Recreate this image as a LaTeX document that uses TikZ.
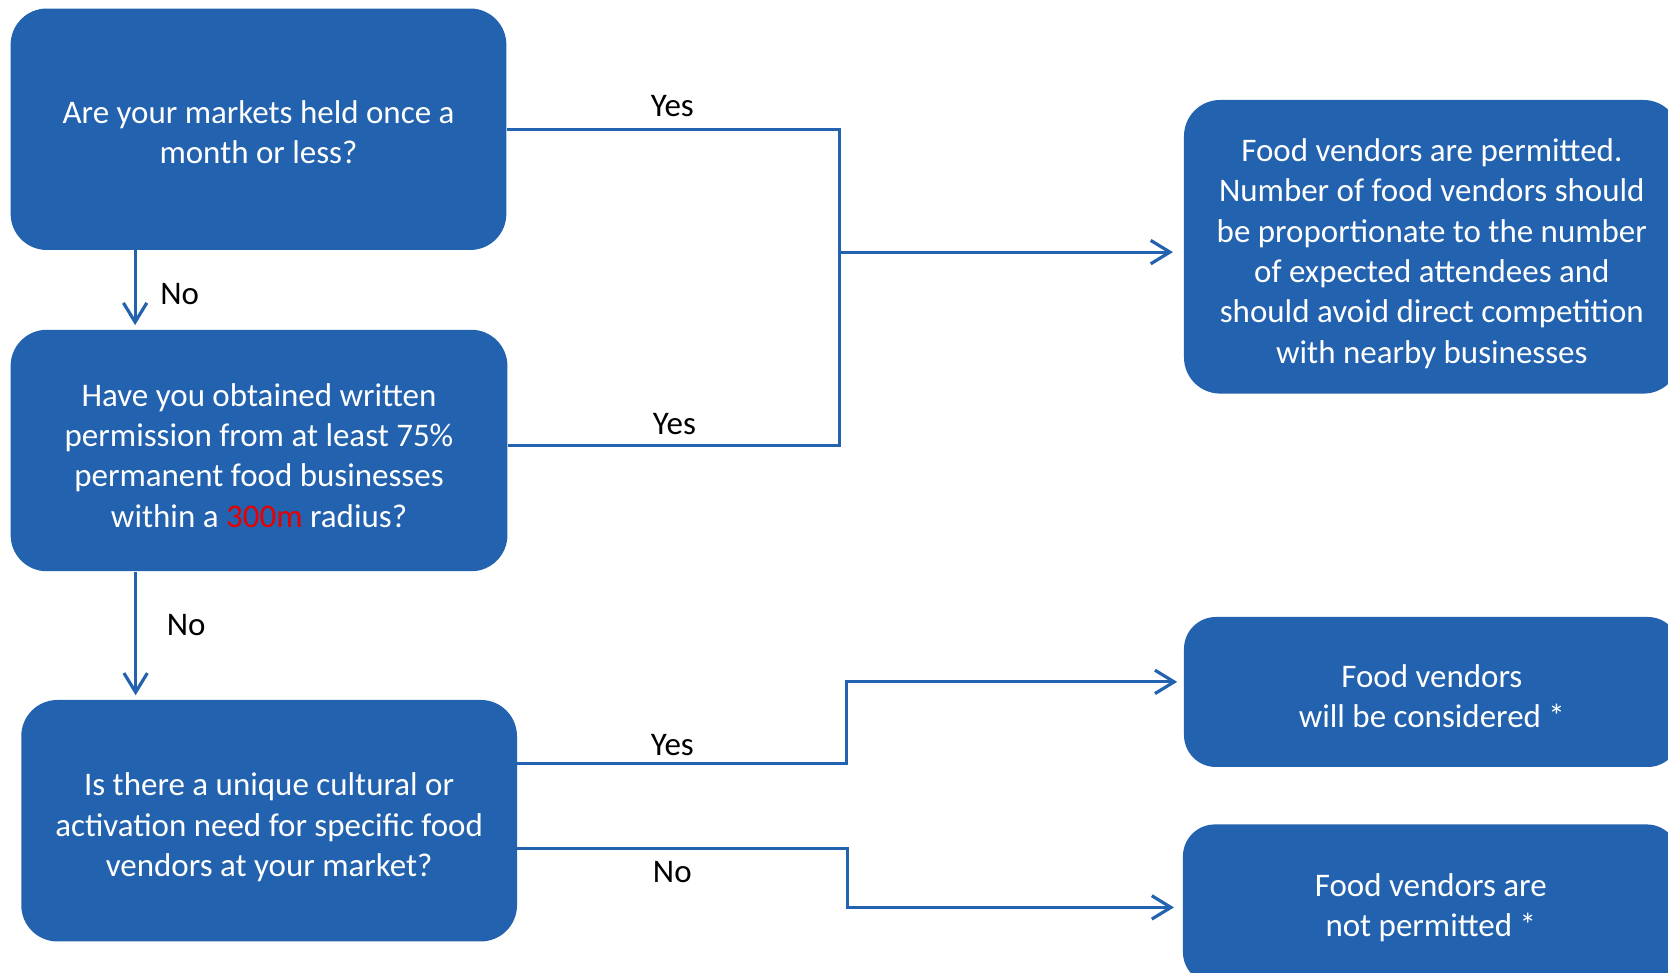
\documentclass[tikz,border=0pt]{standalone}
\usepackage{fontspec}
\setmainfont{Carlito}
\usetikzlibrary{arrows.meta}
\definecolor{boxblue}{RGB}{35,98,174}
\definecolor{redtxt}{RGB}{232,0,0}
\newcommand\lowertxt[2]{\raisebox{-#1}[\height][\depth]{\begin{tabular}{@{}c@{}}#2\end{tabular}}}
\begin{document}
\begin{tikzpicture}[x=0.5pt,y=-0.5pt,
 box/.style={fill=boxblue, rounded corners=17pt, text=white, align=center, inner sep=0pt, font=\fontsize{15.5}{19}\selectfont},
 conn/.style={draw=boxblue, line width=1.5pt},
 arr/.style={conn, -{Straight Barb[length=9pt,width=11pt]}},
 lbl/.style={font=\fontsize{15.5}{19}\selectfont, text=black}]
\useasboundingbox (0,0) rectangle (1568,914);

\node[box, minimum width=233pt, minimum height=113.5pt] (A) at (243,121.5)
  {\lowertxt{3pt}{Are your markets held once a\\month or less?}};
\node[box, minimum width=233.5pt, minimum height=113.5pt] (B) at (243.5,423.5)
  {\lowertxt{3.8pt}{Have you obtained written\\permission from at least 75\%\\permanent food businesses\\within a \textcolor{redtxt}{300m} radius?}};
\node[box, minimum width=233pt, minimum height=113.5pt] (C) at (253,771.5)
  {\lowertxt{3.5pt}{Is there a unique cultural or\\activation need for specific food\\vendors at your market?}};
\node[box, minimum width=233pt, minimum height=138pt] (D) at (1346,232)
  {\lowertxt{3.5pt}{Food vendors are permitted.\\Number of food vendors should\\be proportionate to the number\\of expected attendees and\\should avoid direct competition\\with nearby businesses}};
\node[box, rounded corners=15pt, minimum width=233pt, minimum height=70.5pt] (E) at (1346,650.5)
  {\lowertxt{3.5pt}{Food vendors\\will be considered *}};
\node[box, rounded corners=15pt, minimum width=233pt, minimum height=75pt] (F) at (1345,850)
  {\lowertxt{2pt}{Food vendors are\\not permitted *}};

\coordinate (j1) at (789,237);
\coordinate (k1) at (796,641);
\coordinate (k2) at (797,853);

\draw[conn] (A.east) -| (j1) |- ([yshift=2.5pt]B.east);
\draw[arr, shorten >=5pt] (j1) -- (j1 -| D.west);
\draw[arr, shorten >=2pt] ([xshift=-58pt]A.south) -- ([xshift=-58pt]A.south |- B.north);
\draw[arr, shorten >=2pt] ([xshift=-58pt]B.south) -- ([xshift=-58pt]B.south |- C.north);
\draw[arr, shorten >=3pt] ([yshift=27pt]C.east) -| (k1) -- (k1 -| E.west);
\draw[arr, shorten >=4pt] ([yshift=-13pt]C.east) -| (k2) -- (k2 -| F.west);

\node[lbl] (y1) at (632,100) {Yes};
\node[lbl] (y2) at (634,399) {Yes};
\node[lbl] (y3) at (632,700) {Yes};
\node[lbl] (n1) at (169,276) {No};
\node[lbl] (n2) at (175,588) {No};
\node[lbl] (n3) at (632,820) {No};
\end{tikzpicture}
\end{document}
